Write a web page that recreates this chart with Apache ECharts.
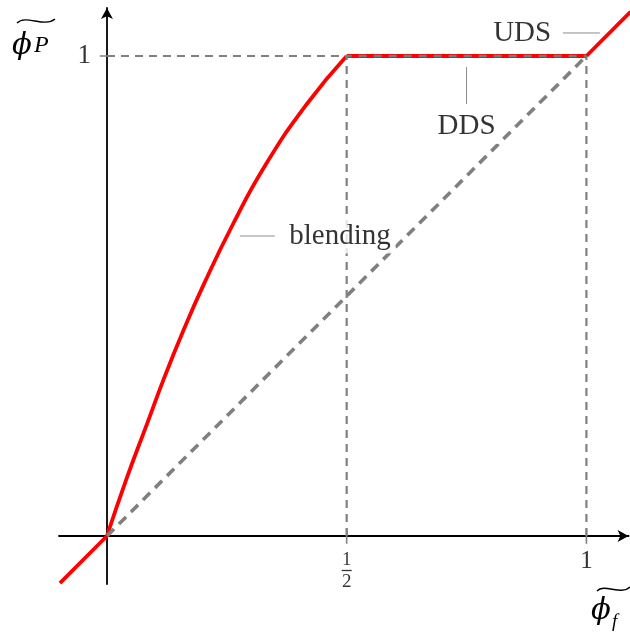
<!DOCTYPE html>
<html>
<head>
<meta charset="utf-8">
<script src="https://cdn.jsdelivr.net/npm/echarts@6/dist/echarts.min.js"></script>
<style>
  html, body { margin: 0; padding: 0; background: #fff; }
  #chart { width: 630px; height: 635px; }
</style>
</head>
<body>
<div id="chart"></div>
<script>
// Blending curve: sampled phi_f values and the matching phi_P values
const blendPhiF = [0, 0.04, 0.083, 0.12, 0.159, 0.2, 0.263, 0.33, 0.417, 0.5];
const blendPhiP = [0, 0.117, 0.232, 0.331, 0.427, 0.52, 0.65, 0.772, 0.9, 1.0];
// Straight pieces of the scheme
const lowerTail = [[-0.098, -0.098], [0, 0]];
const ddsPlateau = [[0.5, 1], [1, 1]];
const udsTail = [[1, 1], [1.092, 1.092]];
// Reference line phi_P = phi_f
const identityLine = [[0, 0], [1, 1]];
// Axis ticks
const xTicks = [0.5, 1];
const xTickLabels = ['1/2', '1'];
const yTicks = [1];
const yTickLabels = ['1'];
// Annotations: text, anchor and leader segment
const noteNames = ['blending', 'UDS', 'DDS'];
const noteAnchors = [[0.486, 0.625], [0.866, 1.048], [0.75, 0.853]];
const noteLeaders = [
  [[0.277, 0.625], [0.350, 0.625]],
  [[0.951, 1.048], [1.028, 1.048]],
  [[0.75, 0.977], [0.75, 0.900]]
];

const SERIF = '"Liberation Serif", "DejaVu Serif", serif';
const GREY = '#808080';

const chart = echarts.init(document.getElementById('chart'), null, { renderer: 'canvas' });

const blendCurve = blendPhiF.map((x, i) => [x, blendPhiP[i]]);

// Horizontal dashed guides at phi_P = 1: left of the plateau, and over the plateau
const topGuideLeft = [[0, yTicks[0]], [xTicks[0], yTicks[0]]];
const topGuideRight = [[xTicks[0], yTicks[0]], [xTicks[xTicks.length - 1], yTicks[0]]];
const verticalGuides = xTicks.map(t => [[t, 0], [t, yTicks[0]]]);

// Short tick marks crossing each axis
const tickSegments = [];
xTicks.forEach(t => tickSegments.push([[t, -0.016], [t, 0.016]]));
yTicks.forEach(t => tickSegments.push([[-0.015, t], [0.015, t]]));

function fracLabel(text) {
  if (text.indexOf('/') < 0) return '{whole|' + text + '}';
  const p = text.split('/');
  return '{num|' + p[0] + '}\n{bar| }\n{den|' + p[1] + '}';
}

const plainLine = (data, style, zlevel, z) => ({
  type: 'line',
  data: data,
  showSymbol: false,
  symbol: 'none',
  lineStyle: style,
  zlevel: zlevel,
  z: z,
  silent: true
});

const redStyle = { color: '#ff0000', width: 3.8, cap: 'butt', join: 'round' };
const guideStyle = { color: GREY, width: 2.2, type: [8, 6] };

const series = [
  plainLine(lowerTail, redStyle, 0, 2),
  Object.assign(plainLine(blendCurve, redStyle, 0, 2), { smooth: 0.5 }),
  plainLine(ddsPlateau, redStyle, 0, 2),
  plainLine(udsTail, redStyle, 0, 2)
];
series.push(plainLine(topGuideLeft, guideStyle, 1, 4));
verticalGuides.forEach(seg => series.push(plainLine(seg, guideStyle, 1, 4)));
series.push(plainLine(identityLine, { color: GREY, width: 3.6, type: [10, 7] }, 1, 4));
tickSegments.forEach(seg => series.push(plainLine(seg, { color: GREY, width: 1.6 }, 1, 5)));
noteLeaders.forEach(seg => series.push(plainLine(seg, { color: '#8c8c8c', width: 1 }, 1, 5)));
// Dashes running over the red plateau
series.push(plainLine(topGuideRight, { color: '#7a7a7a', width: 2.4, type: [8, 7], dashOffset: 3 }, 3, 8));

// Annotation texts on a white box
series.push({
  type: 'scatter',
  data: noteAnchors.map((p, i) => ({ value: p, name: noteNames[i] })),
  symbolSize: 0,
  zlevel: 2,
  z: 6,
  silent: true,
  label: {
    show: true,
    position: 'inside',
    formatter: p => p.name,
    color: '#000',
    fontSize: 29,
    fontFamily: SERIF,
    backgroundColor: '#ffffff',
    padding: [3, 5, 3, 5]
  }
});

// Tick labels under the phi_f axis
series.push({
  type: 'scatter',
  data: xTicks.map((t, i) => ({
    value: [t, 0],
    name: xTickLabels[i],
    label: { distance: xTickLabels[i].indexOf('/') < 0 ? 12 : 16 }
  })),
  symbolSize: 0,
  zlevel: 2,
  z: 6,
  silent: true,
  label: {
    show: true,
    position: 'bottom',
    color: '#000',
    formatter: p => fracLabel(p.name),
    rich: {
      whole: { fontSize: 25, fontFamily: SERIF, lineHeight: 26, color: '#000' },
      num: { fontSize: 19, fontFamily: SERIF, lineHeight: 16, align: 'center', color: '#000' },
      bar: { width: 10, height: 1.3, backgroundColor: '#000', lineHeight: 5, align: 'center' },
      den: { fontSize: 19, fontFamily: SERIF, lineHeight: 18, align: 'center', color: '#000' }
    }
  }
});

// Tick labels left of the phi_P axis
series.push({
  type: 'scatter',
  data: yTicks.map((t, i) => ({ value: [0, t], name: yTickLabels[i] })),
  symbolSize: 0,
  zlevel: 2,
  z: 6,
  silent: true,
  label: {
    show: true,
    position: 'left',
    distance: 16,
    color: '#000',
    fontSize: 27,
    fontFamily: SERIF,
    formatter: p => p.name
  }
});

const axisCommon = {
  type: 'value',
  splitLine: { show: false },
  axisTick: { show: false },
  axisLabel: { show: false },
  axisLine: {
    onZero: true,
    symbol: ['none', 'arrow'],
    symbolSize: [9, 11],
    lineStyle: { color: '#000', width: 1.8 }
  }
};

const option = {
  animation: false,
  backgroundColor: '#ffffff',
  grid: { left: 59, right: 1.4, top: 8, bottom: 51, containLabel: false },
  xAxis: Object.assign({}, axisCommon, { min: -0.1, max: 1.088 }),
  yAxis: Object.assign({}, axisCommon, { min: -0.1, max: 1.1 }),
  series: series,
  graphic: [
    // y-axis name: widetilde phi_P
    {
      type: 'group',
      children: [
        { type: 'text', left: 12, top: 32, style: { text: 'ϕ', font: 'italic 29px "DejaVu Serif"', fill: '#000' } },
        { type: 'text', left: 34, top: 34, style: { text: 'P', font: 'italic 24px "Liberation Serif"', fill: '#000' } },
        { type: 'bezierCurve', shape: { x1: 17, y1: 23, cpx1: 26, cpy1: 14, cpx2: 44, cpy2: 28, x2: 55, y2: 19 },
          style: { stroke: '#000', lineWidth: 1.4, fill: null } }
      ]
    },
    // x-axis name: widetilde phi_f
    {
      type: 'group',
      children: [
        { type: 'text', left: 591, top: 597, style: { text: 'ϕ', font: 'italic 29px "DejaVu Serif"', fill: '#000' } },
        { type: 'text', left: 612, top: 612, style: { text: 'f', font: 'italic 19px "Liberation Serif"', fill: '#000' } },
        { type: 'bezierCurve', shape: { x1: 597, y1: 591, cpx1: 604, cpy1: 583, cpx2: 621, cpy2: 596, x2: 630, y2: 587 },
          style: { stroke: '#000', lineWidth: 1.4, fill: null } }
      ]
    }
  ]
};

chart.setOption(option);
</script>
</body>
</html>
